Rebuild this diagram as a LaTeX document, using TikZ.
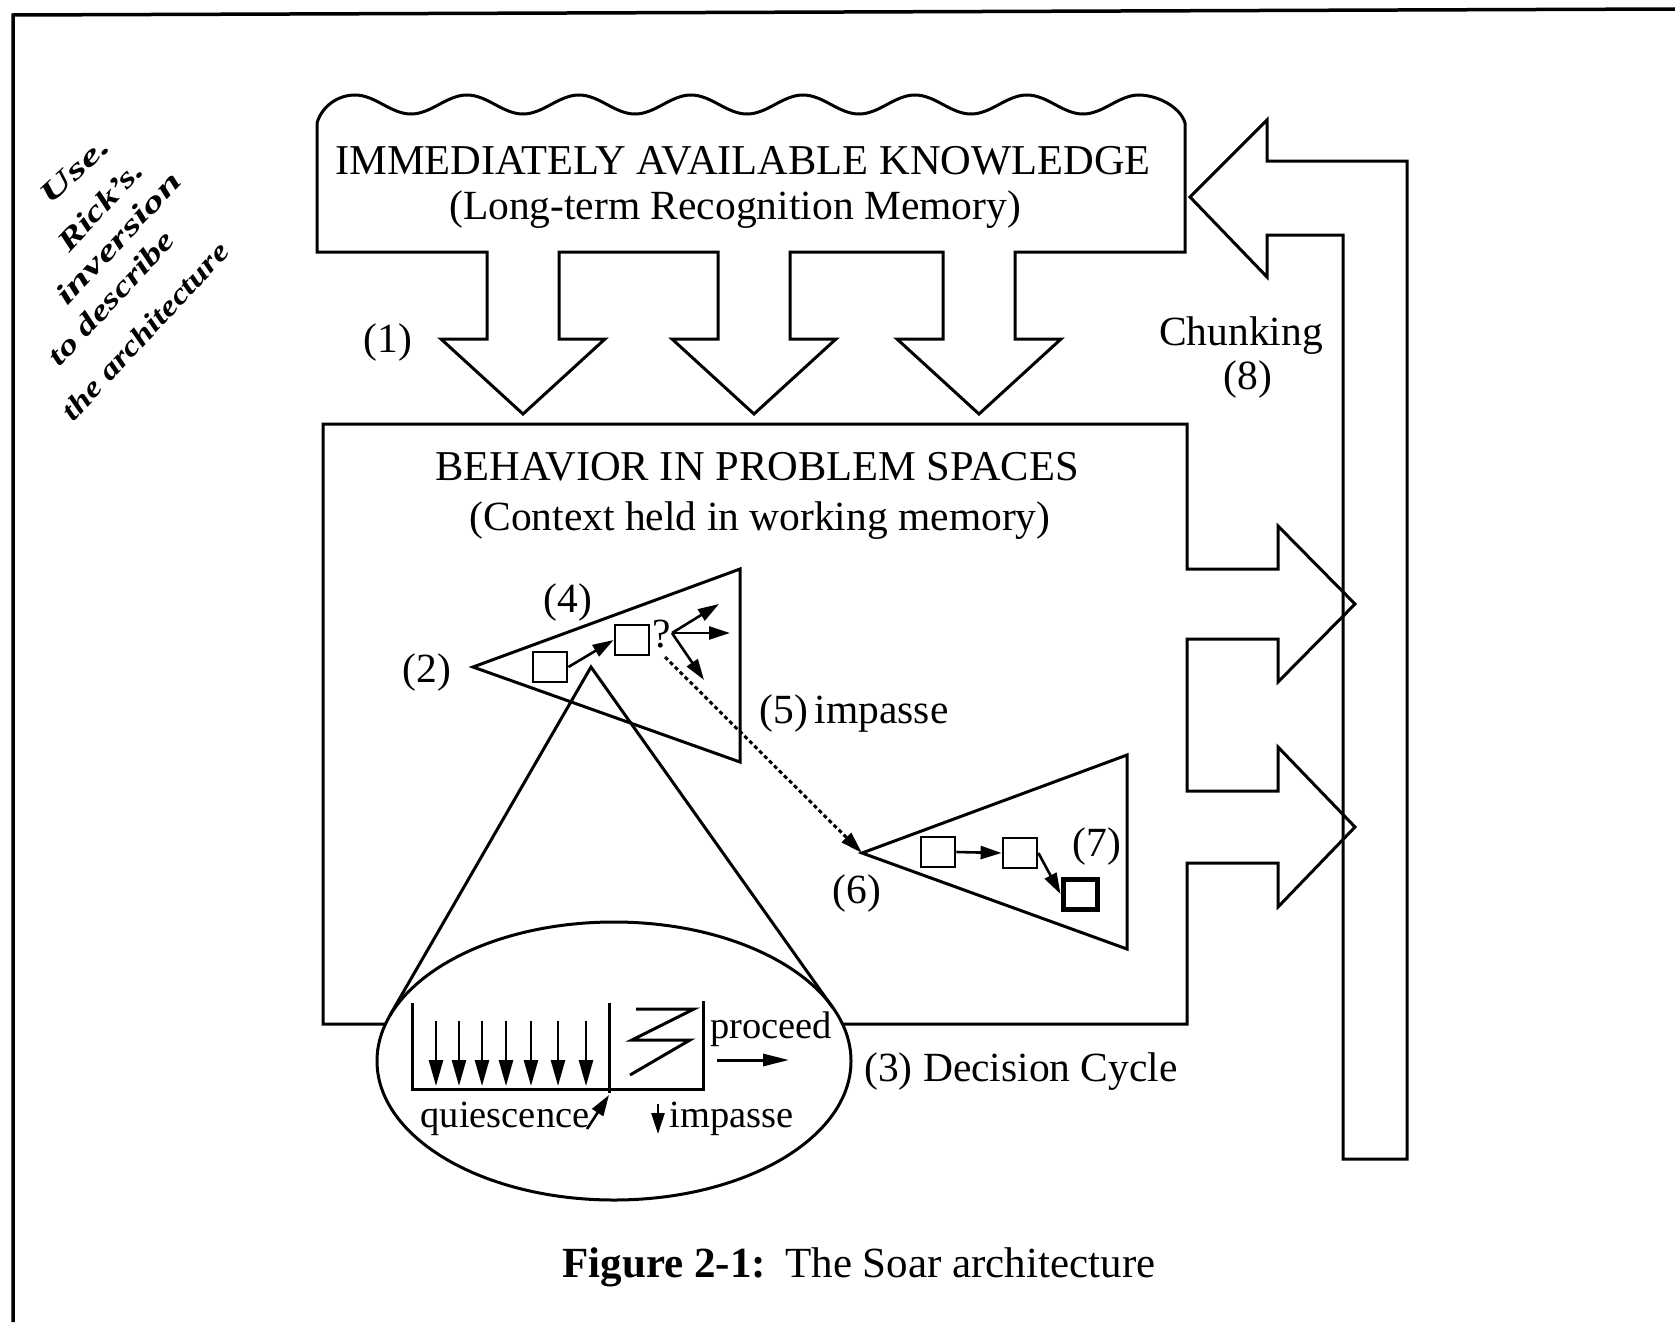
\documentclass[tikz,border=0pt]{standalone}
\usepackage{fontspec}
\setmainfont{Liberation Serif}
\usetikzlibrary{arrows.meta}

\newcommand{\handtext}[2]{\scalebox{#1}[1.0]{\fontsize{29}{32}\selectfont\bfseries\itshape #2}}

\begin{document}
\begin{tikzpicture}[x=1pt,y=-1pt,
  outline/.style={line width=3pt, line join=miter},
  lbl/.style={font=\fontsize{41.5}{48}\selectfont, inner sep=0pt, anchor=base},
  caps/.style={font=\fontsize{42.5}{48}\selectfont, inner sep=0pt, anchor=base},
  slbl/.style={font=\fontsize{38.5}{44}\selectfont, inner sep=0pt, anchor=base},
  hand/.style={inner sep=0pt, anchor=center, rotate=47},
  sbox/.style={draw, line width=2.8pt, minimum width=34pt, minimum height=30pt, inner sep=0pt},
  arr/.style={line width=2.6pt, -{Triangle[length=21pt,width=13pt]}},
  darr/.style={line width=2.6pt, -{Triangle[length=26pt,width=14pt]}},
  parr/.style={line width=3pt, -{Triangle[length=26pt,width=12pt]}},
  dotarr/.style={line width=3pt, dash pattern=on 4pt off 3pt, -{Triangle[length=22pt,width=13pt]}},
]
\fill[white] (0,0) rectangle (1675,1322);
\useasboundingbox (0,0) rectangle (1675,1322);

% page frame
\draw[line width=3.5pt] (13,1322) -- (13,15) -- (1675,9);

% handwritten note
\node[hand, rotate=-4] (h1) at (75,170) {\handtext{1.60}{Use.}};
\node[hand] (h2) at (100,206) {\handtext{1.38}{Rick's.}};
\node[hand] (h3) at (118,238) {\handtext{1.52}{inversion}};
\node[hand] (h4) at (111,298) {\handtext{1.34}{to describe}};
\node[hand] (h5) at (145,331) {\handtext{1.22}{the architecture}};

% long-term recognition memory with its three downward arrows
\draw[outline] (317,252) -- (317,123)
  .. controls (322,106) and (338,95) .. (355,95)
  cos (383,104.5) sin (411,114) cos (439,104.5) sin (467,95)
  cos (495,104.5) sin (523,114) cos (551,104.5) sin (579,95)
  cos (607,104.5) sin (635,114) cos (663,104.5) sin (691,95)
  cos (719,104.5) sin (747,114) cos (775,104.5) sin (803,95)
  cos (831,104.5) sin (859,114) cos (887,104.5) sin (915,95)
  cos (943,104.5) sin (971,114) cos (999,104.5) sin (1027,95)
  cos (1055,104.5) sin (1083,114) cos (1111,104.5) sin (1139,95)
  .. controls (1156,95) and (1180,106) .. (1185,123)
  -- (1185,252) -- (1015,252) -- (1015,339) -- (1061,339) -- (979,414) -- (897,339) -- (943,339) -- (943,252)
  -- (790,252) -- (790,339) -- (836,339) -- (754,414) -- (672,339) -- (718,339) -- (718,252)
  -- (559,252) -- (559,339) -- (605,339) -- (523,414) -- (441,339) -- (487,339) -- (487,252)
  -- cycle;
\node[caps] (kn1) at (743,174) {IMMEDIATELY AVAILABLE KNOWLEDGE};
\node[lbl] (kn2) at (735,219) {(Long-term Recognition Memory)};
\node[lbl] (l1) at (388,352) {(1)};

% working memory with its two output arrows
\draw[outline] (386,1024) -- (323,1024) -- (323,424) -- (1187,424) -- (1187,569)
  -- (1278,569) -- (1278,526) -- (1355,604) -- (1278,682) -- (1278,639) -- (1187,639)
  -- (1187,791) -- (1278,791) -- (1278,747) -- (1355,827) -- (1278,907) -- (1278,863) -- (1187,863)
  -- (1187,1024) -- (843,1024);
\node[caps] (bh1) at (757,480) {BEHAVIOR IN PROBLEM SPACES};
\node[lbl] (bh2) at (760,530) {(Context held in working memory)};

% chunking loop back to long-term memory
\draw[outline] (1190,197) -- (1267,120) -- (1267,161) -- (1407,161) -- (1407,1159)
  -- (1343,1159) -- (1343,235) -- (1267,235) -- (1267,277) -- cycle;
\node[lbl] (ch) at (1241,345) {Chunking};
\node[lbl] (l8) at (1248,389) {(8)};

% first problem space
\coordinate (t1a) at (473,667);
\draw[outline] (t1a) -- (740,569) -- (740,762) -- cycle;
\node[sbox] (b1) at (550,667) {};
\node[sbox] (b2) at (632,640) {};
\draw[arr] (b1.east) -- (b2.west);
\node[lbl] (qm) at (662,647) {?};
\coordinate (qo) at (672,633);
\coordinate (qa) at (719,604);
\coordinate (qb) at (730,633);
\coordinate (qc) at (704,680);
\draw[arr] (qo) -- (qa);
\draw[arr] (qo) -- (qb);
\draw[arr] (qo) -- (qc);
\node[lbl] (l4) at (568,612) {(4)};
\node[lbl] (l2) at (427,682) {(2)};

% subgoal problem space
\coordinate (t2a) at (862,853);
\draw[outline] (t2a) -- (1127,755) -- (1127,949) -- cycle;
\node[sbox] (c1) at (938,852) {};
\node[sbox] (c2) at (1020,853) {};
\node[sbox, line width=5pt] (c3) at (1080,894) {};
\draw[arr] (c1.east) -- (c2.west);
\draw[arr] (c2.east) -- (c3.west);
\node[lbl] (l7) at (1097,856) {(7)};
\node[lbl] (l6) at (857,903) {(6)};

% impasse link
\coordinate (imp) at (665,657);
\draw[dotarr] (imp) -- (t2a);
\node[lbl] (l5) at (854,723) {(5)\,impasse};

% decision cycle, magnified
\coordinate (apex) at (591,667);
\draw[outline] (389.5,1016) -- (apex) -- (832.7,1007.6);
\draw[outline] (614,1061) ellipse [x radius=237pt, y radius=139pt];
\draw[line width=3pt] (412,1003) -- (412,1089) -- (703,1089) -- (703,1001);
\draw[line width=3pt] (609,1003) -- (609,1093);
\foreach \x in {436,459,482,506,531,558,586}
  \draw[darr] (\x,1021) -- (\x,1086);
\draw[line width=3pt, line join=miter] (636,1009) -- (694,1009) -- (632,1040) -- (690,1040) -- (630,1075);
\draw[parr] (717,1060) -- (789,1060);
\draw[arr] (587,1129) -- (609,1095);
\draw[arr] (658,1104) -- (658,1134);
\node[slbl] (pr) at (771,1038) {proceed};
\node[slbl] (qu) at (505,1127) {quiescence};
\node[slbl] (im) at (732,1127) {impasse};
\node[lbl] (l3) at (1021,1081) {(3) Decision Cycle};

% caption
\node[lbl, font=\fontsize{43}{48}\selectfont] (cap) at (859,1277) {\textbf{Figure 2-1:}\hspace{0.45em}The Soar architecture};
\end{tikzpicture}
\end{document}
